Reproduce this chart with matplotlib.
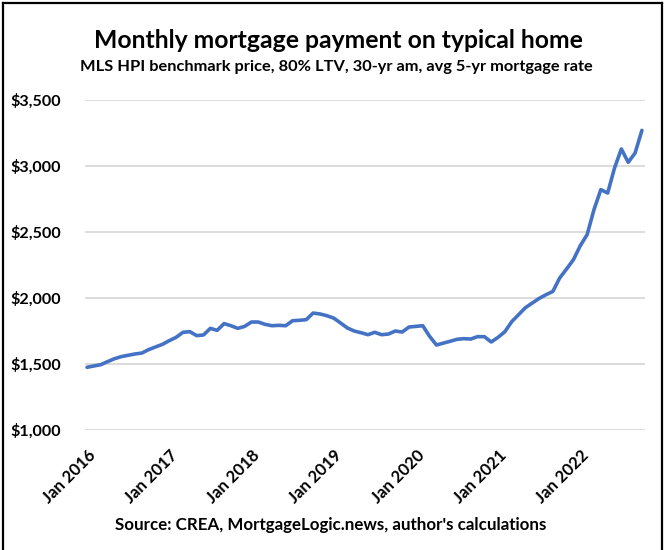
import matplotlib
matplotlib.use("Agg")
import matplotlib.pyplot as plt
from matplotlib.lines import Line2D
import matplotlib.transforms as mtransforms
import pandas as pd

# ---- data ----
months = pd.date_range("2016-01-01", periods=82, freq="MS")
payment = [
    1475, 1485, 1495, 1518, 1540, 1556, 1566, 1576, 1583, 1609, 1629, 1649,
    1677, 1702, 1740, 1745, 1715, 1720, 1770, 1755, 1806, 1790, 1770, 1785,
    1818, 1818, 1800, 1790, 1793, 1790, 1828, 1831, 1836, 1886, 1879, 1866,
    1848, 1811, 1773, 1750, 1737, 1722, 1740, 1722, 1727, 1750, 1742, 1780,
    1785, 1790, 1710, 1644, 1658, 1672, 1687, 1692, 1689, 1707, 1707, 1667,
    1702, 1745, 1821, 1874, 1927, 1962, 1997, 2025, 2050, 2152, 2220, 2290,
    2396, 2480, 2669, 2821, 2795, 2985, 3129, 3028, 3098, 3270,
]
xtick_labels = ["Jan 2016", "Jan 2017", "Jan 2018", "Jan 2019",
                "Jan 2020", "Jan 2021", "Jan 2022"]
xtick_index = [0, 12, 24, 36, 48, 60, 72]
ytick_values = [1000, 1500, 2000, 2500, 3000, 3500]
ytick_labels = ["$1,000", "$1,500", "$2,000", "$2,500", "$3,000", "$3,500"]

title = "Monthly mortgage payment on typical home"
subtitle = "MLS HPI benchmark price, 80% LTV, 30-yr am, avg 5-yr mortgage rate"
source = "Source: CREA, MortgageLogic.news, author's calculations"

FONT = "Lato"
W, H = 666, 550
fig = plt.figure(figsize=(W / 100, H / 100), dpi=100)
fig.patch.set_facecolor("white")

ax = fig.add_axes([85 / W, 1 - 430 / H, (645 - 85) / W, (430 - 100) / H])
x = list(range(len(months)))
ax.plot(x, payment, color="#4472C4", linewidth=2.6, solid_capstyle="round",
        solid_joinstyle="round", zorder=3)

ax.set_xlim(-0.3, len(months) - 1 + 0.45)
ax.set_ylim(1000, 3500)
ax.set_yticks(ytick_values)
ax.set_yticklabels(ytick_labels, fontfamily=FONT, fontweight="bold",
                   fontsize=11.6, color="black")
ax.set_xticks(xtick_index)
ax.set_xticklabels([])
ax.tick_params(axis="both", length=0)
ax.tick_params(axis="y", pad=17)
ax.grid(axis="y", color="#D9D9D9", linewidth=1.3)
ax.set_axisbelow(True)
for s in ax.spines.values():
    s.set_visible(False)

# rotated category labels (Excel style)
base = ax.get_xaxis_transform()
offset = mtransforms.ScaledTranslation(6 / 100, -23 / 100, fig.dpi_scale_trans)
for xi, lab in zip(xtick_index, xtick_labels):
    ax.text(xi, 0, lab, transform=base + offset, rotation=45, ha="right",
            va="center", rotation_mode="anchor", fontfamily=FONT,
            fontweight="bold", fontsize=12, color="black", clip_on=False)

fig.text(0.508, 1 - 40 / H, title, ha="center", va="center",
         fontfamily=FONT, fontweight="bold", fontsize=17.8)
fig.text(0.505, 1 - 67 / H, subtitle, ha="center", va="center",
         fontfamily=FONT, fontweight="bold", fontsize=11.8)
fig.text(0.497, 1 - 525 / H, source, ha="center", va="center",
         fontfamily=FONT, fontweight="bold", fontsize=12.2)

# outer frame (left, top, right)
lw = 1.6
fig.add_artist(Line2D([2.5 / W, 2.5 / W], [0, 1 - 3 / H], transform=fig.transFigure,
                      color="black", linewidth=lw))
fig.add_artist(Line2D([2.5 / W, 662 / W], [1 - 3 / H, 1 - 3 / H],
                      transform=fig.transFigure, color="black", linewidth=lw))
fig.add_artist(Line2D([662 / W, 662 / W], [0, 1 - 3 / H], transform=fig.transFigure,
                      color="black", linewidth=lw))

fig.savefig("out.png", dpi=100, facecolor="white")
